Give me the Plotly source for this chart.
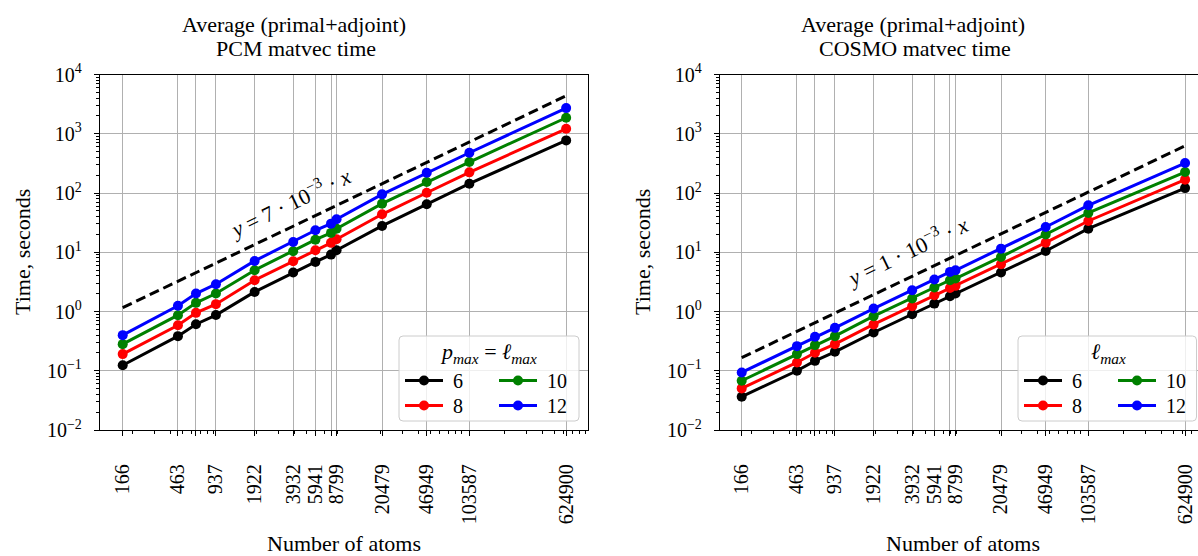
import plotly.graph_objects as go

# ---- data -------------------------------------------------------------
atoms = [166, 463, 647, 937, 1922, 3932, 5941, 7940, 8799, 20479, 46949, 103587, 624900]
atom_labels = ["166", "463", "", "937", "1922", "3932", "5941", "", "8799",
               "20479", "46949", "103587", "624900"]

lmax_values = [6, 8, 10, 12]
series_colors = ["black", "red", "green", "blue"]

pcm_6 = [0.124, 0.384, 0.61, 0.87, 2.14, 4.54, 6.87, 9.13, 10.8, 27.8, 64.4, 143.6, 772]
pcm_8 = [0.191, 0.587, 0.949, 1.33, 3.37, 7.05, 10.8, 14.4, 16.6, 43.7, 101, 223, 1214]
pcm_10 = [0.281, 0.867, 1.40, 2.01, 4.97, 10.4, 16.3, 21.2, 25.0, 66.1, 153, 333, 1862]
pcm_12 = [0.399, 1.25, 2.01, 2.89, 7.14, 14.9, 23.5, 30.4, 36.0, 94.9, 220, 478, 2708]

cosmo_6 = [0.0365, 0.100, 0.147, 0.209, 0.442, 0.90, 1.36, 1.81, 2.01, 4.54, 10.5, 25.0, 121]
cosmo_8 = [0.0504, 0.138, 0.201, 0.281, 0.604, 1.23, 1.88, 2.50, 2.71, 6.28, 14.5, 33.7, 168]
cosmo_10 = [0.0678, 0.191, 0.271, 0.384, 0.834, 1.66, 2.54, 3.37, 3.60, 8.34, 19.9, 46.0, 226]
cosmo_12 = [0.0937, 0.26, 0.374, 0.53, 1.12, 2.29, 3.46, 4.66, 4.97, 11.5, 26.7, 62.0, 320]

# linear-scaling reference lines  y = c * x
pcm_slope = 7e-3
cosmo_slope = 1e-3

y_tickvals = [1e-2, 1e-1, 1e0, 1e1, 1e2, 1e3, 1e4]
y_ticktext = ["10<sup>−2</sup>", "10<sup>−1</sup>", "10<sup>0</sup>", "10<sup>1</sup>",
              "10<sup>2</sup>", "10<sup>3</sup>", "10<sup>4</sup>"]

# ---- page geometry (pixels) ------------------------------------------
W, H = 1198, 556
FONT = "Liberation Serif, Times New Roman, serif"


def px(x):
    return x / W


def py(y):
    return 1 - y / H


minor_x = [m * 10 ** e for e in range(2, 7) for m in range(2, 10)]
minor_y = [m * 10.0 ** e for e in range(-2, 4) for m in range(2, 10)]

fig = go.Figure()

# each panel: axes, series, reference slope, legend box (left, right pixel edges)
panels = [
    dict(xa="x", ya="y", series=[pcm_6, pcm_8, pcm_10, pcm_12], slope=pcm_slope,
         box=(399, 579)),
    dict(xa="x2", ya="y2", series=[cosmo_6, cosmo_8, cosmo_10, cosmo_12], slope=cosmo_slope,
         box=(1018, 1196.5)),
]

# legend grid inside each box: two columns, two rows
col_offsets = [1, 95]
row_tops = [361, 386]
legend_common = dict(
    bgcolor="rgba(0,0,0,0)", borderwidth=0, orientation="v",
    font=dict(family=FONT, size=20, color="black"),
    itemwidth=38, tracegroupgap=0, xanchor="left", yanchor="top",
)
legend_layout = {}

for pi, p in enumerate(panels):
    for i, (lm, col, ys) in enumerate(zip(lmax_values, series_colors, p["series"])):
        n = pi * 4 + i + 1
        lid = "legend" if n == 1 else f"legend{n}"
        legend_layout[lid] = dict(legend_common,
                                  x=px(p["box"][0] + col_offsets[i // 2]),
                                  y=py(row_tops[i % 2]))
        fig.add_trace(go.Scatter(
            x=atoms, y=ys, mode="lines+markers", name="\u00a0" + str(lm),
            line=dict(color=col, width=3), marker=dict(color=col, size=10),
            xaxis=p["xa"], yaxis=p["ya"], legend=lid,
        ))
    ref_x = [atoms[0], atoms[-1]]
    fig.add_trace(go.Scatter(
        x=ref_x, y=[p["slope"] * v for v in ref_x], mode="lines",
        line=dict(color="black", width=3, dash="10px,5px"),
        xaxis=p["xa"], yaxis=p["ya"], showlegend=False,
    ))

fig.update_layout(**legend_layout)

axis_common = dict(
    showline=True, linecolor="black", linewidth=1.4, automargin=False,
    ticks="outside", ticklen=5, tickwidth=1.2, tickcolor="black",
    showgrid=True, gridcolor="#b0b0b0", gridwidth=1, zeroline=False,
    tickfont=dict(family=FONT, size=20, color="black"),
)

xcommon = dict(axis_common, type="log", tickmode="array", tickvals=atoms, ticktext=atom_labels,
               tickangle=-90, ticklabelstandoff=20, mirror=True,
               minor=dict(tickvals=minor_x, ticks="outside", ticklen=3, tickwidth=1,
                          tickcolor="black", showgrid=False))
ycommon = dict(axis_common, type="log", range=[-2, 4], tickmode="array", tickvals=y_tickvals,
               ticktext=y_ticktext, ticklabelstandoff=8,
               minor=dict(tickvals=minor_y, ticks="outside", ticklen=3, tickwidth=1,
                          tickcolor="black", showgrid=False))

fig.update_layout(
    xaxis=dict(xcommon, domain=[px(100), px(588)], range=[2.037, 5.972], anchor="y"),
    yaxis=dict(ycommon, domain=[py(430), py(74.5)], anchor="x", mirror=True),
    xaxis2=dict(xcommon, domain=[px(720), 1.0], range=[2.045, 5.900], anchor="y2"),
    yaxis2=dict(ycommon, domain=[py(430), py(74.5)], anchor="x2", mirror=False),
)


def rounded_rect(x0, y0, x1, y1, r=4):
    """Rounded rectangle path in paper coordinates from pixel corners."""
    rx, ry = r / W, r / H
    X0, X1 = px(x0), px(x1)
    Yt, Yb = py(y0), py(y1)
    return (f"M{X0 + rx},{Yt} L{X1 - rx},{Yt} Q{X1},{Yt} {X1},{Yt - ry} "
            f"L{X1},{Yb + ry} Q{X1},{Yb} {X1 - rx},{Yb} L{X0 + rx},{Yb} "
            f"Q{X0},{Yb} {X0},{Yb + ry} L{X0},{Yt - ry} Q{X0},{Yt} {X0 + rx},{Yt} Z")


shapes = []
for p in panels:
    bx0, bx1 = p["box"]
    shapes.append(dict(type="path", xref="paper", yref="paper", layer="above",
                       path=rounded_rect(bx0, 336, bx1, 421),
                       fillcolor="rgba(255,255,255,0.8)", line=dict(color="#cccccc", width=1)))
fig.update_layout(shapes=shapes)

# ---- text --------------------------------------------------------------
tfont = dict(family=FONT, size=22, color="black")
mfont = dict(family=FONT, size=22, color="black")


def label(text, x, y, font, angle=0, ref=("paper", "paper")):
    return dict(text=text, x=x, y=y, xref=ref[0], yref=ref[1], showarrow=False,
                font=font, textangle=angle, xanchor="center", yanchor="middle",
                align="center")


annotations = [
    label("Average (primal+adjoint)", px(294), py(25), tfont),
    label("PCM matvec time", px(296), py(48), tfont),
    label("Average (primal+adjoint)", px(913), py(25), tfont),
    label("COSMO matvec time", px(915), py(48), tfont),
    label("Number of atoms", px(344), py(543), tfont),
    label("Number of atoms", px(963), py(543), tfont),
    label("Time, seconds", px(22), py(252), tfont, -90),
    label("Time, seconds", px(642), py(252), tfont, -90),
    label("<i>y</i> = 7 · 10<sup>−3</sup> · <i>x</i>", 3.561, 1.851, mfont, -25.6, ("x", "y")),
    label("<i>y</i> = 1 · 10<sup>−3</sup> · <i>x</i>", 3.553, 1.042, mfont, -25.6, ("x2", "y2")),
    label("<i>p</i><sub><i>max</i></sub> = <i>ℓ</i><sub><i>max</i></sub>", px(488), py(353), mfont),
    label("<i>ℓ</i><sub><i>max</i></sub>", px(1108), py(353), mfont),
]
fig.update_layout(annotations=annotations)

fig.update_layout(
    width=W, height=H, autosize=False,
    margin=dict(l=0, r=0, t=0, b=0, autoexpand=False),
    paper_bgcolor="white", plot_bgcolor="white",
    font=dict(family=FONT, size=20, color="black"),
)

fig.write_html("out.html")
